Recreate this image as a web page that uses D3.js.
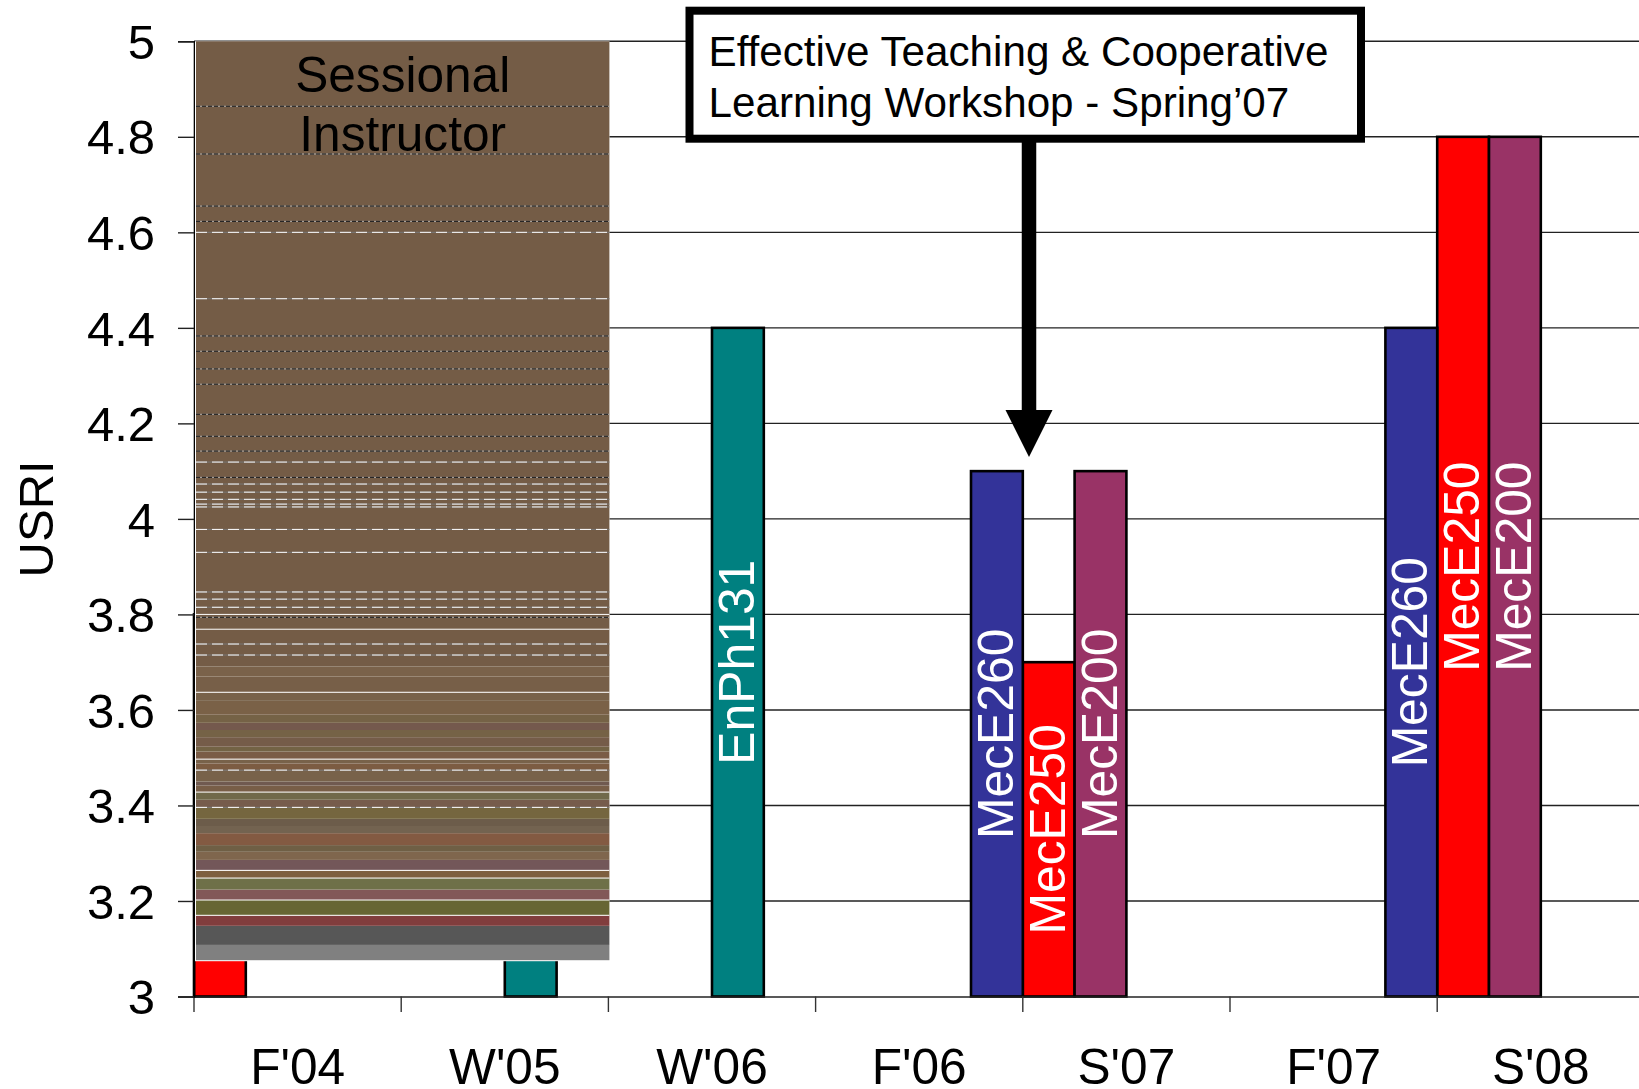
<!DOCTYPE html>
<html>
<head>
<meta charset="utf-8">
<style>
  html, body { margin: 0; padding: 0; background: #fff; overflow: hidden; }
  svg { display: block; }
  text { font-family: "Liberation Sans", Arial, sans-serif; }
</style>
<script src="https://cdn.jsdelivr.net/npm/d3@7"></script>
</head>
<body>
<div id="graphwindow"></div>
<script>
// terms and ticks
const terms = ["F'04", "W'05", "W'06", "F'06", "S'07", "F'07", "S'08"];
const yTicks = [3, 3.2, 3.4, 3.6, 3.8, 4, 4.2, 4.4, 4.6, 4.8, 5];
const seriesNames = ["red", "purple", "teal", "blue"];
const seriesColors = ["#ff0000", "#993366", "#008080", "#333399"];

// USRI per term (the W'05 teal bar is hidden behind the sessional block, its value is a guess)
const redValues = [3.8, null, null, null, 3.7, null, 4.8];
const purpleValues = [null, null, null, null, 4.1, null, 4.8];
const tealValues = [null, 3.6, 4.4, null, null, null, null];
const blueValues = [null, null, null, 4.1, null, 4.4, null];

const redCourses = [null, null, null, null, "MecE250", null, "MecE250"];
const purpleCourses = [null, null, null, null, "MecE200", null, "MecE200"];
const tealCourses = [null, null, "EnPh131", null, null, null, null];
const blueCourses = [null, null, null, "MecE260", null, "MecE260", null];

// sessional instructor block: upper edge of each band, from the bottom up
const blockBottom = 3.076;
const bandTops = [3.108, 3.148, 3.17, 3.202, 3.224, 3.248, 3.265, 3.286, 3.303, 3.317, 3.342, 3.357, 3.372, 3.396,
  3.412, 3.428, 3.442, 3.45, 3.474, 3.488, 3.497, 3.513, 3.523, 3.543, 3.558, 3.573, 3.59, 3.619, 3.637, 3.67, 3.691, 5];
const bandColors = ["#808080", "#575757", "#813d3d", "#676634", "#825858", "#6e7048", "#7d5f3f", "#735759", "#7f664d",
  "#6f5f45", "#835a42", "#736350", "#6c5c4a", "#75663f", "#765c4c", "#70694a", "#785e47", "#705a50", "#78624a",
  "#7c5c42", "#78624a", "#7a5c46", "#736345", "#755c49", "#756246", "#74594d", "#756246", "#7a6147", "#78624a",
  "#775f48", "#7a624a", "#745c46"];
const whiteLines = [3.17, 3.202, 3.248, 3.264, 3.428, 3.497, 3.637, 3.8, 3.769];
const whiteDashes = [3.396, 3.474, 3.715, 3.738, 3.815, 3.832, 3.847, 3.93, 3.978, 4.025, 4.031, 4.041, 4.056, 4.073, 4.119, 4.6, 4.461];
const darkDashes = [3.794, 4.087, 4.142, 4.173, 4.219, 4.282, 4.314, 4.351, 4.383, 4.623, 4.655, 4.764, 4.864];

const width = 1639,
  height = 1089,
  margin = { top: 41.3, left: 194, bottom: 92.5 },
  step = 207.2;

const svg = d3
  .select("#graphwindow")
  .append("svg")
  .attr("width", width)
  .attr("height", height);

const x = d3
  .scaleBand()
  .domain(terms)
  .range([margin.left, margin.left + step * terms.length]);

const xSeries = d3
  .scaleBand()
  .domain(seriesNames)
  .range([0, x.bandwidth()]);

const y = d3
  .scaleLinear()
  .domain([3, 5])
  .range([height - margin.bottom, margin.top]);

// grid
svg
  .selectAll(".grid")
  .data(yTicks.filter((d) => d > 3))
  .enter()
  .append("line")
  .attr("class", "grid")
  .attr("x1", margin.left)
  .attr("x2", width)
  .attr("y1", (d) => y(d))
  .attr("y2", (d) => y(d))
  .style("stroke", "#222")
  .style("stroke-width", 1.4);

// bars
const seriesValues = [redValues, purpleValues, tealValues, blueValues];
const seriesCourses = [redCourses, purpleCourses, tealCourses, blueCourses];

seriesNames.forEach(function (name, s) {
  const rows = terms
    .map((t, i) => ({ term: t, value: seriesValues[s][i], course: seriesCourses[s][i] }))
    .filter((d) => d.value !== null);

  svg
    .selectAll(".bar-" + name)
    .data(rows)
    .enter()
    .append("rect")
    .attr("class", "bar-" + name)
    .attr("x", (d) => x(d.term) + xSeries(name))
    .attr("y", (d) => y(d.value))
    .attr("width", xSeries.bandwidth())
    .attr("height", (d) => y(3) - y(d.value))
    .style("fill", seriesColors[s])
    .style("stroke", "#000")
    .style("stroke-width", 2.6);

  // course names, centred along the bar
  svg
    .selectAll(".course-" + name)
    .data(rows.filter((d) => d.course))
    .enter()
    .append("text")
    .attr("class", "course-" + name)
    .attr("transform", function (d) {
      const cx = x(d.term) + xSeries(name) + xSeries.bandwidth() / 2 + 16;
      return "translate(" + cx + "," + (y(d.value) + y(3)) / 2 + ") rotate(-90)";
    })
    .attr("text-anchor", "middle")
    .style("fill", "#fff")
    .style("font-size", "49.8px")
    .text((d) => d.course);
});

// axe x
const xAxis = svg
  .append("g")
  .attr("transform", "translate(0," + y(3) + ")")
  .call(d3.axisBottom(x).tickSize(0).tickPadding(52));
xAxis.select(".domain").style("stroke", "#222").style("stroke-width", 1.4);
xAxis.selectAll("text").style("font-size", "49.6px").style("font-family", '"Liberation Sans", Arial, sans-serif').style("fill", "#000");

// ticks sit between the terms, not under them
svg
  .selectAll(".term-edge")
  .data(terms)
  .enter()
  .append("line")
  .attr("class", "term-edge")
  .attr("x1", (d) => x(d))
  .attr("x2", (d) => x(d))
  .attr("y1", y(3))
  .attr("y2", y(3) + 15.5)
  .style("stroke", "#333")
  .style("stroke-width", 1.4);

// axe y
const yAxis = svg
  .append("g")
  .attr("transform", "translate(" + margin.left + ",0)")
  .call(d3.axisLeft(y).tickValues(yTicks).tickFormat(d3.format("~g")).tickSize(16).tickPadding(23));
yAxis.select(".domain").style("stroke", "#000").style("stroke-width", 1.6);
yAxis.selectAll(".tick line").style("stroke", "#222").style("stroke-width", 1.4);
yAxis
  .selectAll("text")
  .attr("dy", "0.35em")
  .style("font-size", "49px")
  .style("font-family", '"Liberation Sans", Arial, sans-serif')
  .style("fill", "#000");

svg
  .append("text")
  .attr("transform", "translate(53," + y(4) + ") rotate(-90)")
  .attr("text-anchor", "middle")
  .style("font-size", "49px")
  .text("USRI");

// sessional block
const blockLeft = margin.left + 2,
  blockWidth = x(terms[2]) + 1 - blockLeft;

svg
  .append("rect")
  .attr("x", margin.left + 1)
  .attr("y", y(5))
  .attr("width", blockWidth + 1)
  .attr("height", y(blockBottom) - y(5) + 1)
  .style("fill", "#fff");

svg
  .selectAll(".band")
  .data(bandTops)
  .enter()
  .append("rect")
  .attr("class", "band")
  .attr("x", blockLeft)
  .attr("y", (d) => y(d))
  .attr("width", blockWidth)
  .attr("height", (d, i) => y(i === 0 ? blockBottom : bandTops[i - 1]) - y(d))
  .style("fill", (d, i) => bandColors[i]);

function addBlockLines(values, color, dash, under) {
  if (under) {
    svg
      .selectAll(".under")
      .data(values, (d) => d)
      .enter()
      .append("line")
      .attr("x1", blockLeft)
      .attr("x2", blockLeft + blockWidth)
      .attr("y1", (d) => y(d))
      .attr("y2", (d) => y(d))
      .style("stroke", under)
      .style("stroke-width", 1);
  }
  svg
    .selectAll(".none")
    .data(values, (d) => d)
    .enter()
    .append("line")
    .attr("x1", blockLeft)
    .attr("x2", blockLeft + blockWidth)
    .attr("y1", (d) => y(d))
    .attr("y2", (d) => y(d))
    .style("stroke", color)
    .style("stroke-width", 1)
    .style("stroke-dasharray", dash);
}
addBlockLines(whiteLines, "#fff", "none");
addBlockLines(whiteDashes, "#fff", "11 5", "#777");
addBlockLines(darkDashes, "#111", "4 2", "#aaa");

svg
  .selectAll(".block-title")
  .data(["Sessional", "Instructor"])
  .enter()
  .append("text")
  .attr("class", "block-title")
  .attr("x", blockLeft + blockWidth / 2)
  .attr("y", (d, i) => y(4.894) + i * 59)
  .attr("text-anchor", "middle")
  .style("font-size", "49.6px")
  .style("fill", "#000")
  .text((d) => d);

// workshop callout
const arrowX = 1029;
svg
  .append("line")
  .attr("x1", arrowX)
  .attr("x2", arrowX)
  .attr("y1", 140)
  .attr("y2", 412)
  .style("stroke", "#000")
  .style("stroke-width", 14.5);

svg
  .append("path")
  .attr("d", d3.line()([[arrowX - 23.5, 410], [arrowX + 23.5, 410], [arrowX, 457]]) + "Z")
  .style("fill", "#000");

svg
  .append("rect")
  .attr("x", 689.5)
  .attr("y", 10.7)
  .attr("width", 671.5)
  .attr("height", 128)
  .style("fill", "#fff")
  .style("stroke", "#000")
  .style("stroke-width", 8);

svg
  .selectAll(".callout")
  .data(["Effective Teaching & Cooperative", "Learning Workshop - Spring\u201907"])
  .enter()
  .append("text")
  .attr("class", "callout")
  .attr("x", 708.5)
  .attr("y", (d, i) => 66 + i * 51)
  .style("font-size", "42.2px")
  .style("fill", "#000")
  .text((d) => d);
</script>
</body>
</html>
